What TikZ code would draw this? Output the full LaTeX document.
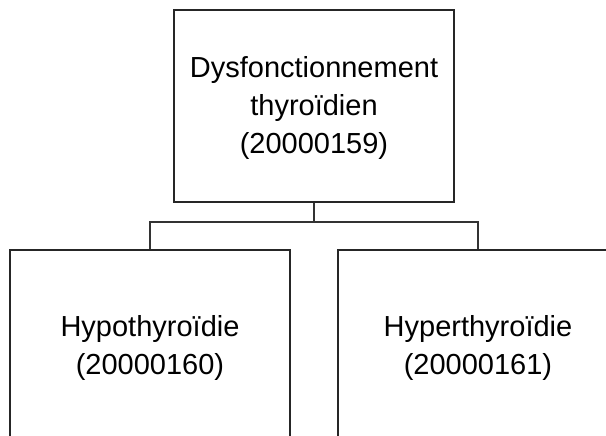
\documentclass[tikz,border=0pt]{standalone}
\usepackage{fontspec}
\setmainfont{Liberation Sans}
\begin{document}
\begin{tikzpicture}[x=1pt,y=-1pt,
  box/.style={draw=black!85,line width=1.3pt,minimum width=280pt,minimum height=192pt,inner sep=0pt},
  lbl/.style={align=center,inner sep=0pt,font=\fontsize{29}{38}\selectfont},
  conn/.style={draw=black!80,line width=1.3pt}]
\useasboundingbox (0,0) rectangle (606,436);
\clip (0,0) rectangle (606,436);
\fill[white] (0,0) rectangle (606,436);
\node[box] (top) at (314,106) {};
\node[box] (left) at (150,346) {};
\node[box] (right) at (478,346) {};
\node[lbl] (toptext) at (314,108) {Dysfonctionnement\\thyroïdien\\(20000159)};
\node[lbl] (lefttext) at (150,348) {Hypothyroïdie\\(20000160)};
\node[lbl] (righttext) at (478,348) {Hyperthyroïdie\\(20000161)};
\coordinate (j) at (314,222);
\draw[conn] (top.south) -- (j);
\draw[conn] (left.north) |- (j) -| (right.north);
\end{tikzpicture}
\end{document}
